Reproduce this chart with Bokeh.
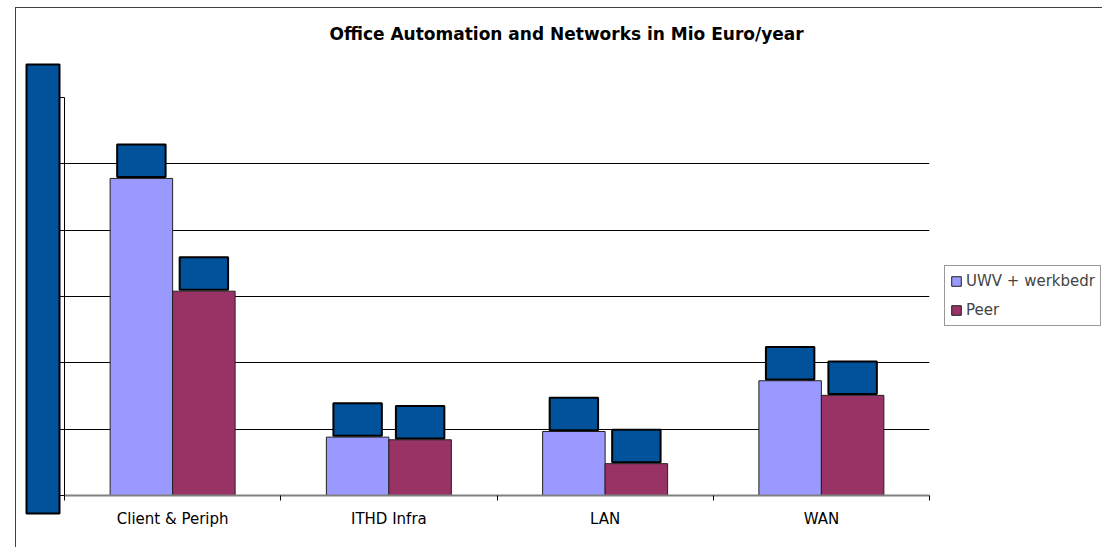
import numpy as np
from bokeh.plotting import figure
from bokeh.models import (Range1d, FixedTicker, Legend, LegendItem, ColorBar,
                          LinearColorMapper, ColumnDataSource, LinearAxis)
from bokeh.embed import file_html
from bokeh.resources import INLINE

# ---- data ----
categories = ["Client & Periph", "ITHD Infra", "LAN", "WAN"]
uwv_werkbedr = [4.78, 0.88, 0.965, 1.73]
peer = [3.08, 0.84, 0.48, 1.51]
y_ticks = [0, 1, 2, 3, 4, 5, 6]

FONT = "DejaVu Sans"
BLUE = "#00529B"

p = figure(frame_width=865, frame_height=398, output_backend="svg", toolbar_location=None,
           x_range=Range1d(0, len(categories)), y_range=Range1d(0, 6),
           min_border_left=48, min_border_right=173, min_border_top=89,
           min_border_bottom=52)
p.styles = {"margin-left": "15px", "margin-top": "7px",
            "border-left": "1px solid #404040", "border-top": "1px solid #404040"}
p.outline_line_color = None
p.background_fill_color = "white"
p.border_fill_color = "white"

# title
p.title.text = "Office Automation and Networks in Mio Euro/year"
p.title.text_font = FONT
p.title.text_font_size = "17px"
p.title.text_font_style = "bold"
p.title.text_color = "black"
p.title.align = "left"
p.title.offset = 265
p.title.standoff = 10

# bars
idx = np.arange(len(categories))
bar_w = 0.289
x_uwv = idx + 0.5 - bar_w / 2
x_peer = idx + 0.5 + bar_w / 2

src = ColumnDataSource(dict(x_uwv=x_uwv, x_peer=x_peer, uwv=uwv_werkbedr, peer=peer))
r1 = p.vbar(x="x_uwv", top="uwv", bottom=0, width=bar_w, source=src,
            fill_color="#9999FF", line_color="#222222", line_width=1)
r2 = p.vbar(x="x_peer", top="peer", bottom=0, width=bar_w, source=src,
            fill_color="#993366", line_color="#222222", line_width=1)

# redaction boxes over the data labels
box_w = 0.224
box_h = 0.49
for xs, vals in ((x_uwv, uwv_werkbedr), (x_peer, peer)):
    v = np.array(vals)
    p.quad(left=xs - box_w / 2, right=xs + box_w / 2, bottom=v + 0.02, top=v + 0.02 + box_h,
           fill_color=BLUE, line_color="black", line_width=2)

# y axis
ya = p.left[0]
ya.ticker = FixedTicker(ticks=y_ticks)
ya.major_label_text_font_size = "0px"
ya.major_label_text_color = None
ya.major_label_standoff = 0
ya.major_tick_out = 5
ya.major_tick_in = 0
ya.minor_tick_line_color = None
ya.axis_line_color = "black"
ya.major_tick_line_color = "black"
p.ygrid.ticker = FixedTicker(ticks=y_ticks)
p.ygrid.grid_line_color = "black"
p.ygrid.grid_line_width = 1
p.xgrid.grid_line_color = None

# x axis (category labels, ticks between categories)
xa = p.below[0]
xa.ticker = FixedTicker(ticks=list(idx + 0.5), minor_ticks=list(range(len(categories) + 1)))
xa.major_label_overrides = {float(i + 0.5): c for i, c in enumerate(categories)}
xa.major_tick_out = 0
xa.major_tick_in = 0
xa.minor_tick_out = 5
xa.minor_tick_in = 0
xa.minor_tick_line_color = "black"
xa.axis_line_color = "#808080"
xa.axis_line_width = 2
xa.major_label_text_font = FONT
xa.major_label_text_font_size = "15px"
xa.major_label_text_color = "black"
xa.major_label_standoff = 9

# invisible spacer between title and plot area
spacer = LinearAxis(ticker=FixedTicker(ticks=[2], minor_ticks=[]), axis_line_color=None,
                    major_tick_line_color=None, minor_tick_line_color=None,
                    major_tick_out=49, major_tick_in=0, minor_tick_out=0, minor_tick_in=0,
                    major_label_overrides={2: ""},
                    major_label_text_font_size="0px", major_label_text_color=None,
                    major_label_standoff=0)
p.add_layout(spacer, "above")

# legend (outside the plot area, right)
legend = Legend(items=[LegendItem(label="UWV + werkbedr", renderers=[r1]),
                       LegendItem(label="Peer", renderers=[r2])],
                location=(15, 169), orientation="vertical")
legend.label_text_font = FONT
legend.label_text_font_size = "15px"
legend.glyph_width = 12
legend.glyph_height = 12
legend.label_height = 20
legend.label_standoff = 4
legend.spacing = 9
legend.padding = 5
legend.margin = 0
legend.border_line_color = "#333333"
legend.border_line_width = 1
legend.background_fill_color = "white"
legend.background_fill_alpha = 1
p.add_layout(legend, "right")

# redaction block over the y-axis tick labels
block = ColorBar(color_mapper=LinearColorMapper(palette=[BLUE], low=0, high=1),
                 width=33, height=449, location=(4, -18),
                 ticker=FixedTicker(ticks=[]), major_label_text_font_size="0px",
                 major_tick_line_color=None, minor_tick_line_color=None,
                 label_standoff=0, padding=0, margin=0,
                 bar_line_color="black", bar_line_width=2,
                 border_line_color=None, background_fill_color=None)
p.add_layout(block, "left")

open("out.html", "w").write(file_html(p, INLINE))
